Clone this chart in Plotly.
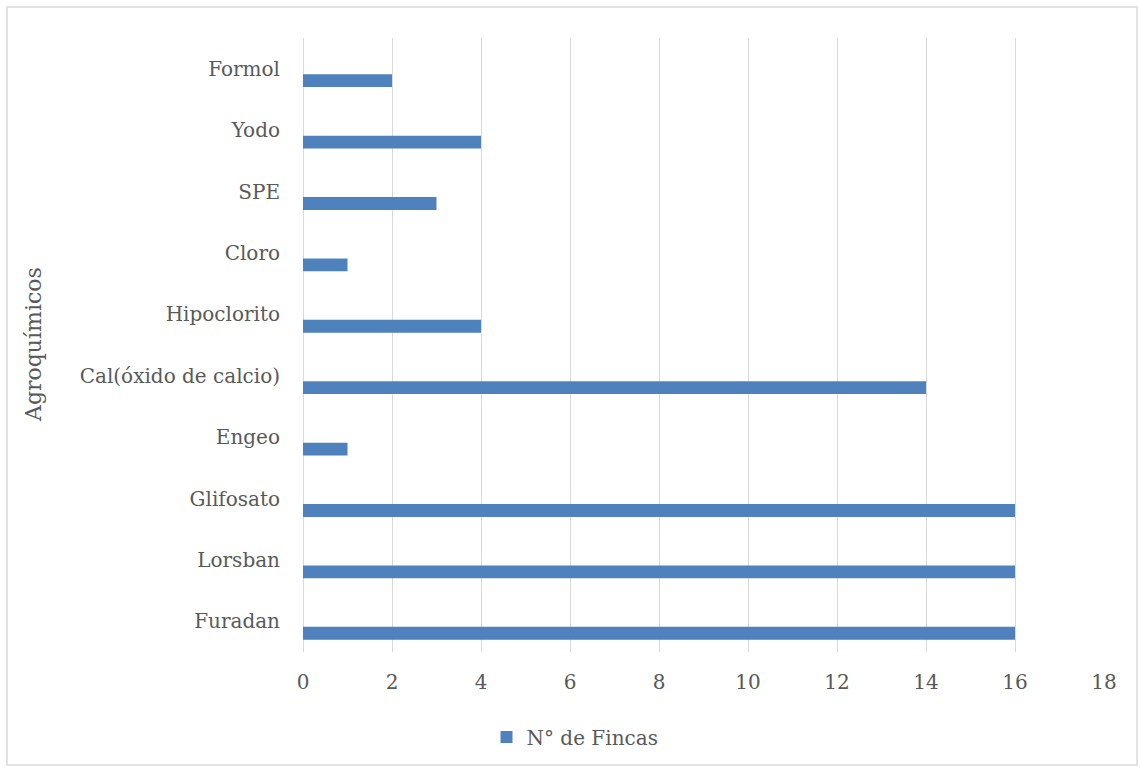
import plotly.graph_objects as go

categories = ["Furadan", "Lorsban", "Glifosato", "Engeo", "Cal(óxido de calcio)",
              "Hipoclorito", "Cloro", "SPE", "Yodo", "Formol"]
values = [16, 16, 16, 1, 14, 4, 1, 3, 4, 2]
series_name = "N° de Fincas"
x_ticks = [0, 2, 4, 6, 8, 10, 12, 14, 16, 18]
y_title = "Agroquímicos"

FONT = "DejaVu Serif"
TXT = "#595959"
GRID = "#d9d9d9"
BAR = "#4F81BD"

W, H = 1140, 769
L, R, T, B = 303, 36, 38, 117
pw, ph = W - L - R, H - T - B

def px(x):
    return (x - L) / pw

def py(y):
    return (T + ph - y) / ph

fig = go.Figure()
fig.add_trace(go.Bar(
    y=categories, x=values, orientation="h", name=series_name,
    marker=dict(color=BAR, line=dict(width=0)),
    width=0.21, offset=-0.30, showlegend=True,
))

fig.update_layout(
    width=W, height=H,
    margin=dict(l=L, r=R, t=T, b=B, autoexpand=False),
    paper_bgcolor="white", plot_bgcolor="white",
    font=dict(family=FONT, size=20, color=TXT),
    showlegend=True,
    legend=dict(orientation="h", x=px(575), xanchor="center", y=py(737), yanchor="middle",
                font=dict(family=FONT, size=20, color=TXT), bgcolor="rgba(0,0,0,0)"),
    xaxis=dict(range=[0, 18], tickvals=x_ticks, showgrid=True, gridcolor=GRID, gridwidth=1,
               zeroline=True, zerolinecolor=GRID, zerolinewidth=1, showline=False,
               ticks="outside", ticklen=12, tickcolor="rgba(0,0,0,0)",
               tickfont=dict(family=FONT, size=20, color=TXT), fixedrange=True, automargin=False),
    yaxis=dict(type="category", categoryorder="array", categoryarray=categories,
               range=[-0.5, len(categories) - 0.5], showgrid=False, zeroline=False, showline=False,
               ticks="outside", ticklen=18, tickcolor="rgba(0,0,0,0)",
               tickfont=dict(family=FONT, size=20, color=TXT), automargin=False),
    shapes=[dict(type="rect", xref="paper", yref="paper",
                 x0=px(7), x1=px(1137), y0=py(765), y1=py(7),
                 line=dict(color=GRID, width=1.5), fillcolor="rgba(0,0,0,0)", layer="below")],
    annotations=[dict(text=y_title, xref="paper", yref="paper", x=px(33), y=0.5,
                      xanchor="center", yanchor="middle", textangle=-90, showarrow=False,
                      font=dict(family=FONT, size=22, color=TXT))],
)

fig.write_html("out.html")
